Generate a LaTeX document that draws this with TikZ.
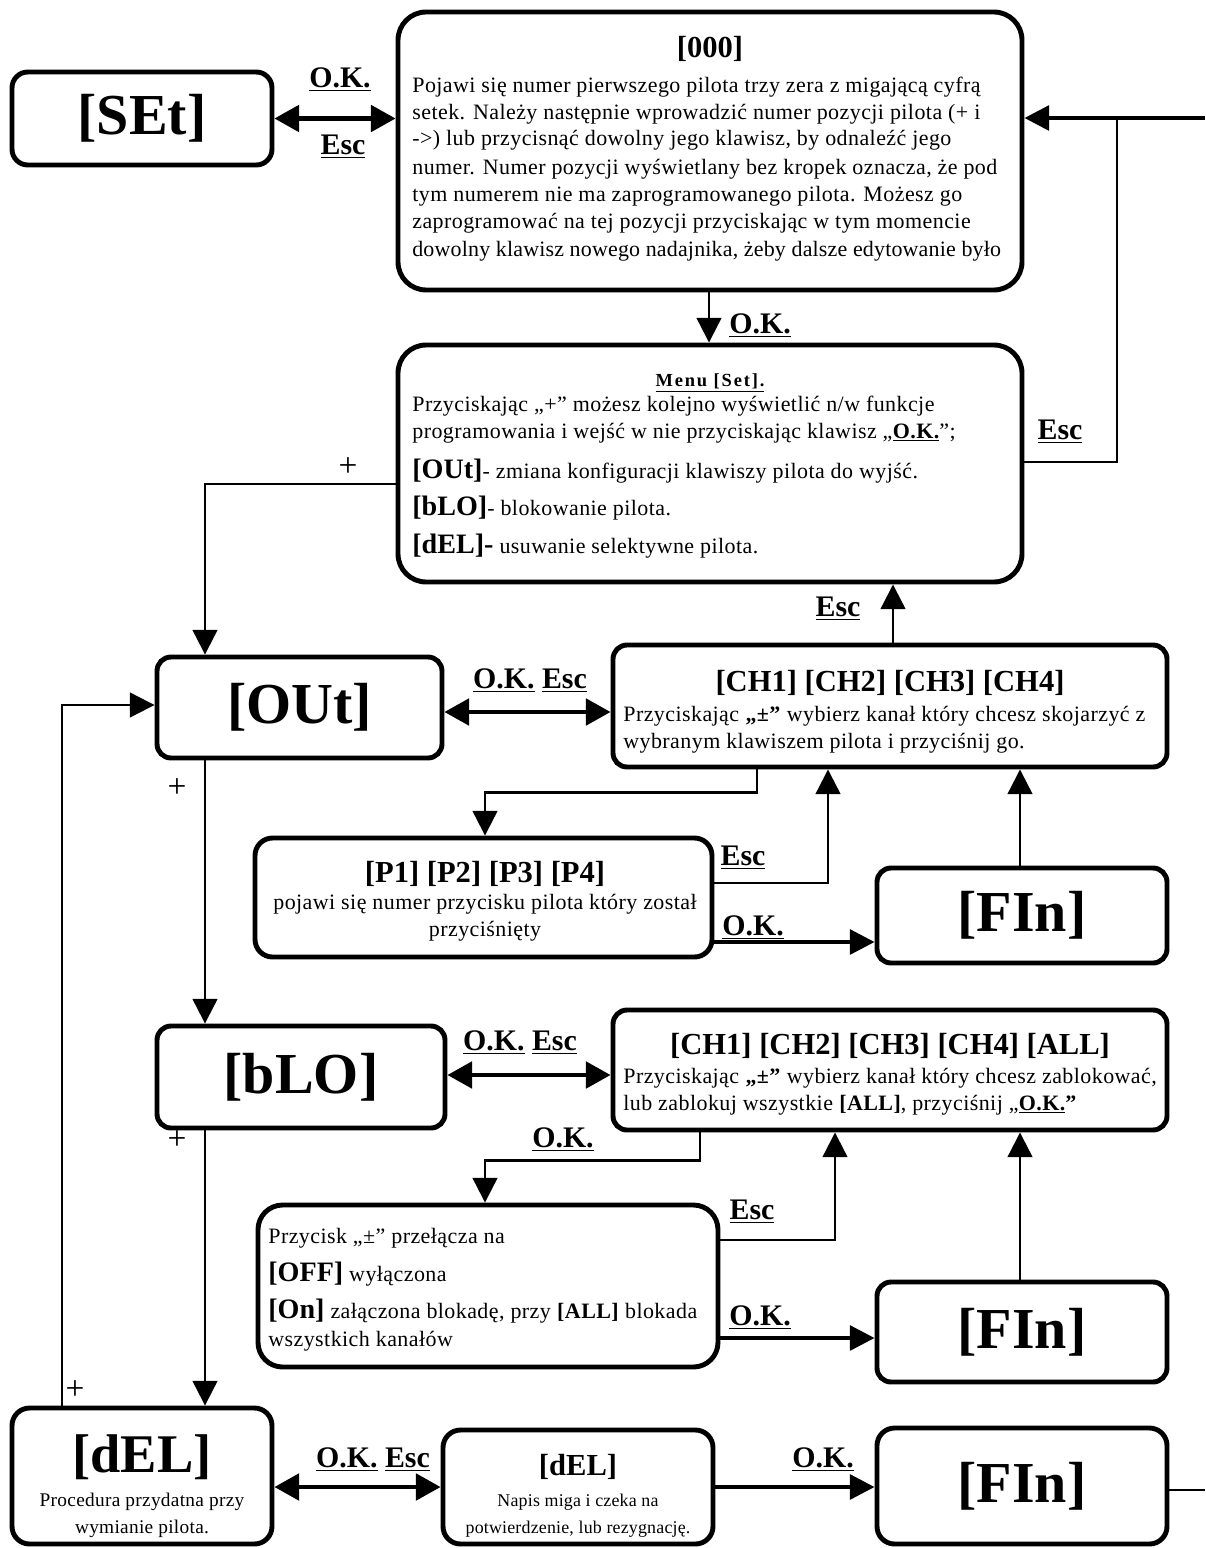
\documentclass[tikz,border=0pt]{standalone}
\usepackage{fontspec}
\setmainfont{Liberation Serif}
\usetikzlibrary{arrows.meta,fit}
\begin{document}
\begin{tikzpicture}[x=0.02cm,y=-0.02cm,
  box/.style={draw, line width=2.8pt, rounded corners=#1, inner sep=0pt},
  box/.default=7pt,
  tip/.style={-{Triangle[length=14pt,width=14pt]}},
  conn/.style={line width=1.3pt, tip},
  thickconn/.style={line width=2.3pt, tip},
  dbl/.style={line width=2.3pt, {Triangle[length=14pt,width=15pt]}-{Triangle[length=14pt,width=15pt]}},
  plainline/.style={line width=1.3pt},
  lab/.style={font=\fontsize{17}{19}\selectfont\bfseries, inner sep=0pt},
  plus/.style={font=\fontsize{19}{21}\selectfont, inner sep=0pt},
  body/.style={font=\fontsize{12.5}{15.3}\selectfont\addfontfeature{LetterSpace=2}, inner sep=0pt, anchor=base west},
  bodyc/.style={body, anchor=base},
  smallc/.style={font=\fontsize{11}{13}\selectfont\addfontfeature{LetterSpace=1.5}, inner sep=0pt, anchor=base},
  tinyc/.style={font=\fontsize{10.2}{12}\selectfont\addfontfeature{LetterSpace=1}, inner sep=0pt, anchor=base},
  big/.style={font=\fontsize{33}{38}\selectfont\bfseries, inner sep=0pt},
  mid/.style={font=\fontsize{17.4}{19}\selectfont\bfseries, inner sep=0pt, anchor=base}]
\newcommand\kwb[1]{{\fontsize{16}{18}\selectfont\bfseries\addfontfeature{LetterSpace=0}#1}}
\useasboundingbox (0,0) rectangle (1205,1548);

% ---------- boxes ----------
\node[box=9pt, fit={(12,72)(272,165)}] (set) {};
\node[box=16pt, fit={(398,12)(1022,290)}] (top) {};
\node[box=16pt, fit={(398,345)(1022,582)}] (menu) {};
\node[box=8pt, fit={(157,657)(442,758)}] (out) {};
\node[box=8pt, fit={(613,645)(1167,767)}] (ch) {};
\node[box=10pt, fit={(255,838)(712,957)}] (pbox) {};
\node[box=8pt, fit={(877,868)(1167,963)}] (fin1) {};
\node[box=8pt, fit={(157,1026)(445,1128)}] (blo) {};
\node[box=8pt, fit={(613,1010)(1167,1130)}] (ch2) {};
\node[box=14pt, fit={(258,1205)(718,1367)}] (off) {};
\node[box=8pt, fit={(877,1282)(1167,1382)}] (fin2) {};
\node[box=10pt, fit={(12,1408)(272,1544)}] (del) {};
\node[box=10pt, fit={(443,1430)(713,1544)}] (del2) {};
\node[box=10pt, fit={(877,1428)(1167,1544)}] (fin3) {};

% ---------- big titles ----------
\node[big] (tset) at (set.center) {[SEt]};
\node[big] (tout) at (out.center) {[OUt]};
\node[big] (tblo) at (blo.center) {[bLO]};
\node[big] (tfin1) at (fin1.center) {[FIn]};
\node[big] (tfin2) at (fin2.center) {[FIn]};
\node[big] (tfin3) at (fin3.center) {[FIn]};

% ---------- texts ----------
\node[mid] (t000) at (710,58) {[000]};
\node[body] (t01) at (412,92) {Pojawi się numer pierwszego pilota trzy zera z migającą cyfrą};
\node[body] (t02) at (412,119) {setek. Należy następnie wprowadzić numer pozycji pilota (+ i};
\node[body] (t03) at (412,146) {->) lub przycisnąć dowolny jego klawisz, by odnaleźć jego};
\node[body] (t04) at (412,174) {numer. Numer pozycji wyświetlany bez kropek oznacza, że pod};
\node[body] (t05) at (412,201) {tym numerem nie ma zaprogramowanego pilota. Możesz go};
\node[body] (t06) at (412,228) {zaprogramować na tej pozycji przyciskając w tym momencie};
\node[body, font=\fontsize{12.5}{15.3}\selectfont\addfontfeature{LetterSpace=0.8}] (t07) at (412,256) {dowolny klawisz nowego nadajnika, żeby dalsze edytowanie było};

\node[font=\fontsize{10.5}{12}\selectfont\bfseries\addfontfeature{LetterSpace=10}, inner sep=0pt, anchor=base] (tmenu) at (710,386) {\underline{Menu [Set].}};
\node[body] (m1) at (412,411) {Przyciskając „+” możesz kolejno wyświetlić n/w funkcje};
\node[body] (m2) at (412,438) {programowania i wejść w nie przyciskając klawisz „\textbf{\underline{O.K.}}”;};
\node[body] (m3) at (412,478) {\kwb{[OUt]}- zmiana konfiguracji klawiszy pilota do wyjść.};
\node[body] (m4) at (412,515) {\kwb{[bLO]}- blokowanie pilota.};
\node[body] (m5) at (412,553) {\kwb{[dEL]-} usuwanie selektywne pilota.};

\node[mid] (tch) at (890,691) {[CH1] [CH2] [CH3] [CH4]};
\node[body] (c1) at (623,721) {Przyciskając \textbf{„±”} wybierz kanał który chcesz skojarzyć z};
\node[body] (c2) at (623,748) {wybranym klawiszem pilota i przyciśnij go.};

\node[mid] (tp) at (485,882) {[P1] [P2] [P3] [P4]};
\node[bodyc] (p1) at (485,909) {pojawi się numer przycisku pilota który został};
\node[bodyc] (p2) at (485,936) {przyciśnięty};

\node[mid] (tch2) at (890,1054) {[CH1] [CH2] [CH3] [CH4] [ALL]};
\node[body] (d1) at (623,1083) {Przyciskając \textbf{„±”} wybierz kanał który chcesz zablokować,};
\node[body] (d2) at (623,1110) {lub zablokuj wszystkie \textbf{[ALL]}, przyciśnij „\textbf{\underline{O.K.}”}};

\node[body] (o1) at (268,1243) {Przycisk „±” przełącza na};
\node[body] (o2) at (268,1281) {\kwb{[OFF]} wyłączona};
\node[body] (o3) at (268,1318) {\kwb{[On]} załączona blokadę, przy \textbf{[ALL]} blokada};
\node[body] (o4) at (268,1346) {wszystkich kanałów};

\node[font=\fontsize{31}{36}\selectfont\bfseries, inner sep=0pt, anchor=base] (tdel) at (142,1472) {[dEL]};
\node[smallc] (e1) at (142,1506) {Procedura przydatna przy};
\node[smallc] (e2) at (142,1533) {wymianie pilota.};

\node[mid] (tdel2) at (578,1475) {[dEL]};
\node[tinyc] (f1) at (578,1506) {Napis miga i czeka na};
\node[tinyc] (f2) at (578,1533) {potwierdzenie, lub rezygnację.};

% ---------- connector labels ----------
\node[lab] (l1) at (340,80) {\underline{O.K.}};
\node[lab] (l2) at (343,147) {\underline{Esc}};
\node[lab] (l3) at (760,326) {\underline{O.K.}};
\node[lab] (l4) at (1060,432) {\underline{Esc}};
\node[plus] (l5) at (348,467) {+};
\node[lab] (l6) at (530,681) {\underline{O.K.} \underline{Esc}};
\node[lab] (l7) at (838,609) {\underline{Esc}};
\node[lab] (l8) at (743,858) {\underline{Esc}};
\node[lab] (l9) at (753,928) {\underline{O.K.}};
\node[plus] (l10) at (177,788) {+};
\node[lab] (l11) at (520,1043) {\underline{O.K.} \underline{Esc}};
\node[lab] (l12) at (563,1140) {\underline{O.K.}};
\node[lab] (l13) at (752,1212) {\underline{Esc}};
\node[lab] (l14) at (760,1318) {\underline{O.K.}};
\node[plus] (l15) at (177,1140) {+};
\node[plus] (l16) at (75,1390) {+};
\node[lab] (l17) at (373,1460) {\underline{O.K.} \underline{Esc}};
\node[lab] (l18) at (823,1460) {\underline{O.K.}};

% ---------- connectors ----------
\coordinate (rin) at (1205,118);
\coordinate (rout) at (1205,1490);
\coordinate (jn) at (1117,118);

\draw[dbl] (set.east) -- (set.east -| top.west);
\draw[thickconn] (rin) -- (rin -| top.east);
\draw[plainline] (menu.east |- 0,462) -| (jn);
\draw[conn] (709,0 |- top.south) -- (709,0 |- menu.north);
\draw[conn] (menu.west |- 0,484) -| (205,0 |- out.north);
\draw[dbl] (out.east |- 0,712) -- (ch.west |- 0,712);
\draw[conn] (893,0 |- ch.north) -- (893,0 |- menu.south);
\draw[conn] (757,0 |- ch.south) -- ++(0,23) -| (485,0 |- pbox.north);
\draw[conn] (pbox.east |- 0,883) -| (828,0 |- ch.south);
\draw[thickconn] (pbox.east |- 0,942) -- (fin1.west |- 0,942);
\draw[conn] (1020,0 |- fin1.north) -- (1020,0 |- ch.south);
\draw[conn] (205,0 |- out.south) -- (205,0 |- blo.north);
\draw[dbl] (blo.east |- 0,1075) -- (ch2.west |- 0,1075);
\draw[conn] (700,0 |- ch2.south) -- ++(0,28) -| (485,0 |- off.north);
\draw[conn] (off.east |- 0,1240) -| (835,0 |- ch2.south);
\draw[thickconn] (off.east |- 0,1338) -- (fin2.west |- 0,1338);
\draw[conn] (1020,0 |- fin2.north) -- (1020,0 |- ch2.south);
\draw[conn] (205,0 |- blo.south) -- (205,0 |- del.north);
\draw[conn] (62,0 |- del.north) |- (out.west |- 0,705);
\draw[dbl] (del.east |- 0,1487) -- (del2.west |- 0,1487);
\draw[thickconn] (del2.east |- 0,1487) -- (fin3.west |- 0,1487);
\draw[plainline] (fin3.east |- 0,1490) -- (rout);
\end{tikzpicture}
\end{document}
